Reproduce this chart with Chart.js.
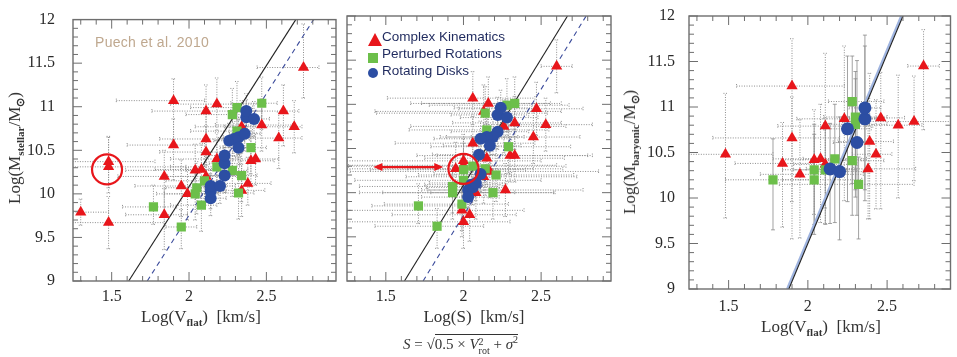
<!DOCTYPE html>
<html>
<head>
<meta charset="utf-8">
<script src="https://cdn.jsdelivr.net/npm/chart.js@4/dist/chart.umd.min.js"></script>
<style>
  body { margin:0; background:#fff; width:957px; height:357px; overflow:hidden; position:relative; }
  .wrap { position:absolute; top:0; height:310px; }
  .t { position:absolute; font-family:"Liberation Serif", serif; font-size:17px; color:#333; white-space:nowrap; transform:translate(-50%,-50%); }
  .t sub { font-size:11px; font-weight:bold; vertical-align:-4px; }
  .rot { transform:translate(-50%,-50%) rotate(-90deg); }
  .note { position:absolute; left:95px; top:34px; font-family:"Liberation Sans", sans-serif; font-size:14px; color:#bfa88f; letter-spacing:0.3px; }
  .leg { position:absolute; font-family:"Liberation Sans", sans-serif; font-size:13.5px; color:#1f2a5e; white-space:nowrap; }
  .leg svg { position:absolute; }
  #formula { position:absolute; left:403px; top:334px; font-family:"Liberation Serif", serif; font-size:15px; color:#333; white-space:nowrap; }
  #formula .rad { border-top:1px solid #333; padding-top:1px; }
  #formula .ss { display:inline-block; vertical-align:-5px; line-height:9px; font-size:10px; }
</style>
</head>
<body>

<div class="wrap" style="left:0;width:345px"><canvas id="c1"></canvas></div>
<div class="wrap" style="left:340px;width:280px"><canvas id="c2"></canvas></div>
<div class="wrap" style="left:620px;width:337px;height:330px"><canvas id="c3"></canvas></div>

<div class="note">Puech et al. 2010</div>

<div class="leg" style="left:368px;top:29px">
  <svg width="14" height="13" style="left:0;top:4px"><polygon points="7,0 14,13 0,13" fill="#e8161b"/></svg>
  <span style="margin-left:14px">Complex Kinematics</span>
</div>
<div class="leg" style="left:368px;top:46px">
  <svg width="10" height="10" style="left:0;top:7px"><rect width="10" height="10" fill="#6cbf4a"/></svg>
  <span style="margin-left:14px">Perturbed Rotations</span>
</div>
<div class="leg" style="left:368px;top:63px">
  <svg width="10" height="10" style="left:0;top:5px"><circle cx="5" cy="5" r="5" fill="#2c4ea3"/></svg>
  <span style="margin-left:14px">Rotating Disks</span>
</div>

<div class="t rot" style="left:16px;top:148px">Log(M<sub>stellar</sub>/M<sub>⊙</sub>)</div>
<div class="t" style="left:201px;top:317px">Log(V<sub>flat</sub>)&nbsp;&nbsp;[km/s]</div>
<div class="t" style="left:474px;top:317px">Log(S)&nbsp;&nbsp;[km/s]</div>
<div id="formula"><i>S</i> = &radic;<span class="rad">0.5 × <i>V</i><span class="ss">2<br>rot</span> + <i>σ</i><sup style="font-size:10px">2</sup></span></div>
<div class="t rot" style="left:631px;top:152px">Log(M<sub>baryonic</sub>/M<sub>⊙</sub>)</div>
<div class="t" style="left:821px;top:327px">Log(V<sub>flat</sub>)&nbsp;&nbsp;[km/s]</div>

<script>
// axis ranges and labelled ticks
const xRange = [1.25, 2.95];
const xRange3 = [1.25, 2.9];
const yRange = [9, 12];
const xLabels = [1.5, 2, 2.5];
const yLabels = [9, 9.5, 10, 10.5, 11, 11.5, 12];

// rows: [log x, log M, x err -, x err +, y err -, y err +]
const p1Complex = [
  [1.30, 9.79, 0.05, 0.18, 0.15, 0.15], [1.48, 9.67, 0.25, 0.36, 0.3, 0.3],
  [1.48, 10.31, 0.25, 0.5, 0.3, 0.35], [1.48, 10.37, 0.25, 0.3, 0.3, 0.28],
  [1.84, 10.20, 0.3, 0.2, 0.45, 0.3], [1.84, 9.76, 0.25, 0.15, 0.4, 0.3],
  [1.90, 11.07, 0.37, 0.2, 0.45, 0.25], [1.90, 10.56, 0.3, 0.2, 0.4, 0.3],
  [1.95, 10.09, 0.3, 0.2, 0.35, 0.3], [1.99, 10.00, 0.2, 0.2, 0.3, 0.3],
  [2.04, 10.27, 0.45, 0.15, 0.3, 0.3], [2.08, 10.28, 0.3, 0.15, 0.3, 0.3],
  [2.11, 10.95, 0.35, 0.2, 0.3, 0.3], [2.11, 10.63, 0.3, 0.2, 0.3, 0.3],
  [2.11, 10.48, 0.3, 0.2, 0.3, 0.3], [2.11, 10.20, 0.25, 0.2, 0.3, 0.3],
  [2.18, 11.03, 0.3, 0.3, 0.3, 0.3], [2.18, 10.40, 0.3, 0.15, 0.3, 0.3],
  [2.34, 10.77, 0.3, 0.15, 0.3, 0.3], [2.34, 10.04, 0.2, 0.15, 0.3, 0.3],
  [2.38, 10.12, 0.2, 0.15, 0.25, 0.3], [2.40, 10.38, 0.2, 0.15, 0.3, 0.3],
  [2.43, 10.40, 0.2, 0.15, 0.3, 0.3], [2.47, 10.79, 0.3, 0.2, 0.3, 0.3],
  [2.58, 10.64, 0.3, 0.15, 0.35, 0.3], [2.61, 10.95, 0.3, 0.1, 0.4, 0.3],
  [2.68, 10.77, 0.45, 0.05, 0.3, 0.3], [2.74, 11.45, 0.3, 0.1, 0.35, 0.5]
];
const p1Perturbed = [
  [1.77, 9.85, 0.2, 0.15, 0.2, 0.25], [1.95, 9.62, 0.1, 0.1, 0.25, 0.2],
  [2.04, 10.00, 0.2, 0.1, 0.3, 0.3], [2.05, 10.07, 0.2, 0.1, 0.3, 0.3],
  [2.08, 9.87, 0.2, 0.1, 0.3, 0.3], [2.10, 10.15, 0.25, 0.1, 0.3, 0.3],
  [2.18, 10.31, 0.3, 0.1, 0.3, 0.3], [2.28, 10.27, 0.3, 0.1, 0.3, 0.3],
  [2.28, 10.91, 0.3, 0.1, 0.3, 0.3], [2.31, 10.99, 0.3, 0.1, 0.3, 0.3],
  [2.31, 10.72, 0.3, 0.1, 0.3, 0.3], [2.32, 10.01, 0.2, 0.1, 0.3, 0.3],
  [2.34, 10.21, 0.2, 0.1, 0.3, 0.3], [2.40, 10.53, 0.2, 0.1, 0.3, 0.3],
  [2.47, 11.04, 0.2, 0.1, 0.3, 0.3]
];
const p1Rotating = [
  [2.14, 9.95, 0.1, 0.1, 0.2, 0.2], [2.14, 10.03, 0.1, 0.1, 0.2, 0.2],
  [2.14, 10.09, 0.1, 0.1, 0.2, 0.2], [2.20, 10.09, 0.1, 0.1, 0.2, 0.2],
  [2.23, 10.21, 0.1, 0.1, 0.2, 0.2], [2.23, 10.35, 0.1, 0.1, 0.2, 0.2],
  [2.23, 10.44, 0.1, 0.1, 0.2, 0.2], [2.26, 10.61, 0.1, 0.1, 0.2, 0.2],
  [2.29, 10.63, 0.1, 0.1, 0.2, 0.2], [2.32, 10.65, 0.1, 0.1, 0.2, 0.2],
  [2.32, 10.53, 0.1, 0.1, 0.2, 0.2], [2.36, 10.69, 0.1, 0.1, 0.2, 0.2],
  [2.37, 10.88, 0.1, 0.1, 0.2, 0.2], [2.37, 10.95, 0.1, 0.1, 0.2, 0.2],
  [2.42, 10.86, 0.1, 0.1, 0.2, 0.2]
];

const p2Complex = [
  [1.95, 10.27, 0.7, 0.5, 0.3, 0.3], [1.99, 9.80, 0.74, 0.4, 0.3, 0.3],
  [2.00, 9.67, 0.75, 0.3, 0.3, 0.3], [2.00, 10.31, 0.75, 0.6, 0.3, 0.3],
  [2.00, 10.36, 0.75, 0.5, 0.3, 0.3], [2.04, 9.75, 0.5, 0.3, 0.3, 0.3],
  [2.06, 11.07, 0.55, 0.4, 0.3, 0.3], [2.06, 10.56, 0.5, 0.4, 0.3, 0.3],
  [2.08, 10.00, 0.6, 0.5, 0.3, 0.3], [2.13, 10.92, 0.7, 0.5, 0.3, 0.3],
  [2.13, 10.18, 0.5, 0.6, 0.3, 0.3], [2.15, 10.39, 0.4, 0.5, 0.3, 0.3],
  [2.16, 11.01, 0.5, 0.4, 0.3, 0.3], [2.17, 10.24, 0.9, 0.7, 0.3, 0.3],
  [2.26, 10.75, 0.6, 0.4, 0.3, 0.3], [2.27, 10.03, 0.5, 0.5, 0.3, 0.3],
  [2.30, 10.42, 0.6, 0.5, 0.3, 0.3], [2.33, 10.42, 0.5, 0.5, 0.3, 0.3],
  [2.33, 10.79, 0.4, 0.3, 0.3, 0.3], [2.45, 10.63, 0.4, 0.3, 0.3, 0.3],
  [2.47, 10.95, 0.5, 0.3, 0.3, 0.3], [2.53, 10.77, 0.4, 0.3, 0.3, 0.3],
  [2.60, 11.43, 0.1, 0.1, 0.3, 0.3]
];
const p2Perturbed = [
  [1.71, 9.85, 0.3, 0.3, 0.2, 0.25], [1.83, 9.62, 0.4, 0.3, 0.25, 0.2],
  [1.93, 10.00, 0.6, 0.4, 0.3, 0.3], [1.93, 10.07, 0.6, 0.3, 0.3, 0.3],
  [1.99, 9.87, 0.5, 0.3, 0.3, 0.3], [2.00, 10.14, 0.7, 0.5, 0.3, 0.3],
  [2.00, 10.26, 0.6, 0.4, 0.3, 0.3], [2.06, 10.30, 0.8, 0.6, 0.3, 0.3],
  [2.14, 10.27, 0.5, 0.5, 0.3, 0.3], [2.14, 10.90, 0.7, 0.4, 0.3, 0.3],
  [2.15, 10.71, 0.5, 0.4, 0.3, 0.3], [2.19, 10.00, 0.4, 0.4, 0.3, 0.3],
  [2.21, 10.20, 0.5, 0.5, 0.3, 0.3], [2.28, 10.99, 0.5, 0.4, 0.3, 0.3],
  [2.29, 10.52, 0.5, 0.4, 0.3, 0.3], [2.33, 11.01, 0.6, 0.3, 0.3, 0.3]
];
const p2Rotating = [
  [2.24, 10.96, 0.3, 0.2, 0.2, 0.2], [2.22, 10.88, 0.3, 0.2, 0.2, 0.2],
  [2.28, 10.85, 0.3, 0.2, 0.2, 0.2], [2.22, 10.69, 0.3, 0.2, 0.2, 0.2],
  [2.19, 10.63, 0.3, 0.2, 0.2, 0.2], [2.15, 10.63, 0.3, 0.2, 0.2, 0.2],
  [2.11, 10.61, 0.3, 0.2, 0.2, 0.2], [2.17, 10.53, 0.3, 0.2, 0.2, 0.2],
  [2.10, 10.43, 0.3, 0.2, 0.2, 0.2], [2.11, 10.21, 0.3, 0.2, 0.2, 0.2],
  [2.05, 10.09, 0.3, 0.2, 0.2, 0.2], [2.06, 10.06, 0.3, 0.2, 0.2, 0.2],
  [2.03, 10.03, 0.3, 0.2, 0.2, 0.2], [2.03, 9.95, 0.3, 0.2, 0.2, 0.2],
  [2.08, 10.11, 0.3, 0.2, 0.2, 0.2]
];

const p3Complex = [
  [1.48, 10.48, 0.25, 0.3, 0.7, 0.67], [1.84, 10.38, 0.3, 0.2, 0.7, 0.45],
  [1.90, 11.23, 0.35, 0.33, 1.68, 0.52], [1.90, 10.66, 0.5, 0.3, 0.7, 0.45],
  [1.95, 10.26, 0.25, 0.4, 0.7, 0.6], [2.04, 10.42, 0.2, 0.3, 0.6, 0.55],
  [2.08, 10.43, 0.3, 0.2, 0.7, 0.6], [2.11, 10.37, 0.2, 0.2, 0.65, 0.5],
  [2.11, 10.79, 0.3, 0.3, 0.9, 0.8], [2.23, 10.87, 0.3, 0.2, 0.9, 0.8],
  [2.38, 10.32, 0.2, 0.3, 0.55, 0.5], [2.39, 10.62, 0.2, 0.15, 0.85, 0.75],
  [2.43, 10.48, 0.15, 0.1, 0.6, 0.6], [2.46, 10.88, 0.2, 0.15, 1.0, 0.5],
  [2.57, 10.80, 0.2, 0.15, 0.8, 0.55], [2.67, 10.84, 0.45, 0.4, 0.65, 0.5],
  [2.73, 11.45, 0.1, 0.1, 0.7, 0.4]
];
const p3Perturbed = [
  [1.78, 10.20, 0.3, 0.25, 0.55, 0.45], [2.04, 10.20, 0.2, 0.3, 0.6, 0.5],
  [2.04, 10.31, 0.2, 0.2, 0.6, 0.5], [2.11, 10.31, 0.2, 0.2, 0.6, 0.5],
  [2.17, 10.43, 0.2, 0.2, 0.7, 0.6], [2.28, 10.41, 0.2, 0.2, 0.6, 0.6],
  [2.28, 11.06, 0.15, 0.2, 0.9, 0.5], [2.30, 10.89, 0.2, 0.2, 0.8, 0.5],
  [2.30, 10.81, 0.2, 0.2, 0.8, 0.5], [2.32, 10.15, 0.5, 0.35, 0.6, 0.3]
];
const p3Rotating = [
  [2.14, 10.32, 0.15, 0.15, 0.6, 0.5], [2.20, 10.29, 0.15, 0.15, 0.75, 0.6],
  [2.25, 10.76, 0.15, 0.15, 0.8, 0.8], [2.31, 10.61, 0.15, 0.1, 0.8, 0.9],
  [2.36, 10.87, 0.1, 0.1, 0.9, 0.8], [2.36, 10.99, 0.1, 0.1, 0.9, 0.8]
];

// fitted relations (end points)
const p1Fit = [[1.61, 9], [2.69, 12]];
const p1FitLocal = [[1.73, 9], [2.805, 12]];
const p2Fit = [[1.62, 9], [2.67, 12]];
const p2FitLocal = [[1.74, 9], [2.79, 12]];
const p3Fit = [[1.88, 9], [2.60, 12]];
const p3FitLocal = [[1.87, 9], [2.59, 12]];

// highlighted objects
const p1Circle = [1.47, 10.28];
const p2Circle = [2.0, 10.27];
const p2Arrow = [[1.42, 10.29], [1.87, 10.29]];

const RED = '#e8161b', GREEN = '#6cbf4a', BLUE = '#2c4ea3';

function pts(rows) { return rows.map(r => ({ x: r[0], y: r[1] })); }

function pointSet(rows, style, color, radius, vSolid) {
  return {
    type: 'scatter', data: pts(rows), rows: rows, vSolid: vSolid,
    pointStyle: style, pointRadius: radius, pointHoverRadius: radius,
    backgroundColor: color, borderColor: color, borderWidth: 0, order: 1
  };
}

function lineSet(ends, color, width, dash) {
  return {
    type: 'scatter', data: pts(ends), showLine: true, pointRadius: 0,
    borderColor: color, borderWidth: width, borderDash: dash, order: 5
  };
}

const errorBars = {
  id: 'errorBars',
  beforeDatasetsDraw(chart) {
    const { ctx, chartArea: a, scales: { x, y } } = chart;
    ctx.save();
    ctx.beginPath();
    ctx.rect(a.left, a.top, a.right - a.left, a.bottom - a.top);
    ctx.clip();
    chart.data.datasets.forEach(ds => {
      if (!ds.rows) return;
      ds.rows.forEach(r => {
        const px = x.getPixelForValue(r[0]), py = y.getPixelForValue(r[1]);
        const x0 = x.getPixelForValue(r[0] - r[2]), x1 = x.getPixelForValue(r[0] + r[3]);
        const y0 = y.getPixelForValue(r[1] - r[4]), y1 = y.getPixelForValue(r[1] + r[5]);
        ctx.lineWidth = 1;
        ctx.strokeStyle = '#8c8c8c';
        ctx.setLineDash([1, 1.5]);
        ctx.beginPath();
        ctx.moveTo(x0, py); ctx.lineTo(x1, py);
        ctx.moveTo(x0, py - 2); ctx.lineTo(x0, py + 2);
        ctx.moveTo(x1, py - 2); ctx.lineTo(x1, py + 2);
        if (!ds.vSolid) {
          ctx.moveTo(px, y0); ctx.lineTo(px, y1);
        }
        ctx.stroke();
        ctx.beginPath();
        if (ds.vSolid) {
          ctx.setLineDash([]);
          ctx.strokeStyle = '#8a8a8a';
          ctx.lineWidth = 0.8;
          ctx.moveTo(px, y0); ctx.lineTo(px, y1);
        }
        ctx.moveTo(px - 2, y0); ctx.lineTo(px + 2, y0);
        ctx.moveTo(px - 2, y1); ctx.lineTo(px + 2, y1);
        ctx.stroke();
      });
    });
    ctx.restore();
  }
};

const frameTicks = {
  id: 'frameTicks',
  afterDraw(chart, args, opts) {
    const { ctx, chartArea: a, scales: { x, y } } = chart;
    ctx.save();
    ctx.strokeStyle = '#6e6e6e';
    ctx.lineWidth = 1;
    ctx.beginPath();
    x.ticks.forEach(t => {
      const p = x.getPixelForValue(t.value);
      const len = isLabel(t.value, xLabels) ? 9 : 5;
      ctx.moveTo(p, a.bottom); ctx.lineTo(p, a.bottom - len);
      ctx.moveTo(p, a.top); ctx.lineTo(p, a.top + len);
    });
    y.ticks.forEach(t => {
      const p = y.getPixelForValue(t.value);
      const len = isLabel(t.value, yLabels) ? 9 : 5;
      ctx.moveTo(a.left, p); ctx.lineTo(a.left + len, p);
      ctx.moveTo(a.right, p); ctx.lineTo(a.right - len, p);
    });
    ctx.stroke();
    ctx.lineWidth = 1.4;
    ctx.strokeRect(a.left, a.top, a.right - a.left, a.bottom - a.top);

    // red highlight marks
    ctx.strokeStyle = RED;
    ctx.fillStyle = RED;
    ctx.lineWidth = 2.2;
    (opts.circles || []).forEach(c => {
      ctx.beginPath();
      ctx.arc(x.getPixelForValue(c[0]), y.getPixelForValue(c[1]), 15, 0, Math.PI * 2);
      ctx.stroke();
    });
    (opts.arrows || []).forEach(ar => {
      const xa = x.getPixelForValue(ar[0][0]), ya = y.getPixelForValue(ar[0][1]);
      const xb = x.getPixelForValue(ar[1][0]), yb = y.getPixelForValue(ar[1][1]);
      ctx.beginPath();
      ctx.moveTo(xa + 6, ya); ctx.lineTo(xb - 6, yb);
      ctx.stroke();
      ctx.beginPath();
      ctx.moveTo(xa, ya); ctx.lineTo(xa + 9, ya - 4); ctx.lineTo(xa + 9, ya + 4); ctx.closePath();
      ctx.moveTo(xb, yb); ctx.lineTo(xb - 9, yb - 4); ctx.lineTo(xb - 9, yb + 4); ctx.closePath();
      ctx.fill();
    });
    ctx.restore();
  }
};

function isLabel(v, list) {
  return list.some(l => Math.abs(l - v) < 1e-6);
}

function minorTicks(scale) {
  const out = [];
  for (let k = Math.ceil(scale.min * 10 - 1e-6); k <= Math.floor(scale.max * 10 + 1e-6); k++) {
    out.push({ value: k / 10 });
  }
  scale.ticks = out;
}

const tickFont = { family: '"Liberation Serif", serif', size: 16 };

function makePanel(id, cfg) {
  return new Chart(document.getElementById(id), {
    type: 'scatter',
    data: { datasets: cfg.datasets },
    options: {
      responsive: true,
      maintainAspectRatio: false,
      animation: false,
      events: [],
      layout: { padding: { top: 16, right: cfg.padRight, left: 0, bottom: 0 } },
      plugins: {
        legend: { display: false },
        tooltip: { enabled: false },
        frameTicks: { circles: cfg.circles, arrows: cfg.arrows }
      },
      scales: {
        x: {
          type: 'linear', min: cfg.xRange[0], max: cfg.xRange[1],
          grid: { display: false }, border: { display: false },
          afterBuildTicks: minorTicks,
          afterFit: s => { s.height = cfg.xHeight; },
          ticks: {
            autoSkip: false, maxRotation: 0, padding: cfg.xPad, color: '#2a2a2a', font: tickFont,
            callback: v => isLabel(v, xLabels) ? String(+v.toFixed(1)) : ''
          }
        },
        y: {
          type: 'linear', min: yRange[0], max: yRange[1],
          grid: { display: false }, border: { display: false },
          afterBuildTicks: minorTicks,
          afterFit: s => { s.width = cfg.yWidth; },
          ticks: {
            autoSkip: false, padding: cfg.yPad, color: '#2a2a2a', font: tickFont,
            callback: v => (cfg.yText && isLabel(v, yLabels)) ? String(+v.toFixed(1)) : ''
          }
        }
      }
    },
    plugins: [errorBars, frameTicks]
  });
}

makePanel('c1', {
  xRange: xRange, yWidth: 73, xHeight: 29, padRight: 9, xPad: -2, yPad: 10, yText: true,
  circles: [p1Circle], arrows: [],
  datasets: [
    pointSet(p1Rotating, 'circle', BLUE, 6),
    pointSet(p1Perturbed, 'rect', GREEN, 6.5),
    pointSet(p1Complex, 'triangle', RED, 6.5),
    lineSet(p1Fit, '#222', 1.1, []),
    lineSet(p1FitLocal, '#3b4b9b', 1.1, [5, 4])
  ]
});

makePanel('c2', {
  xRange: xRange, yWidth: 7, xHeight: 29, padRight: 9, xPad: -2, yPad: 4, yText: false,
  circles: [p2Circle], arrows: [p2Arrow],
  datasets: [
    pointSet(p2Rotating, 'circle', BLUE, 6),
    pointSet(p2Perturbed, 'rect', GREEN, 6.5),
    pointSet(p2Complex, 'triangle', RED, 6.5),
    lineSet(p2Fit, '#222', 1.1, []),
    lineSet(p2FitLocal, '#3b4b9b', 1.1, [5, 4])
  ]
});

makePanel('c3', {
  xRange: xRange3, yWidth: 69, xHeight: 41, padRight: 1, xPad: 0, yPad: 6, yText: true,
  circles: [], arrows: [],
  datasets: [
    pointSet(p3Rotating, 'circle', BLUE, 6.5, true),
    pointSet(p3Perturbed, 'rect', GREEN, 6.5, true),
    pointSet(p3Complex, 'triangle', RED, 6.5),
    lineSet(p3Fit, '#222', 1.1, []),
    lineSet(p3FitLocal, '#9fb4e0', 2.5, [])
  ]
});
</script>
</body>
</html>
